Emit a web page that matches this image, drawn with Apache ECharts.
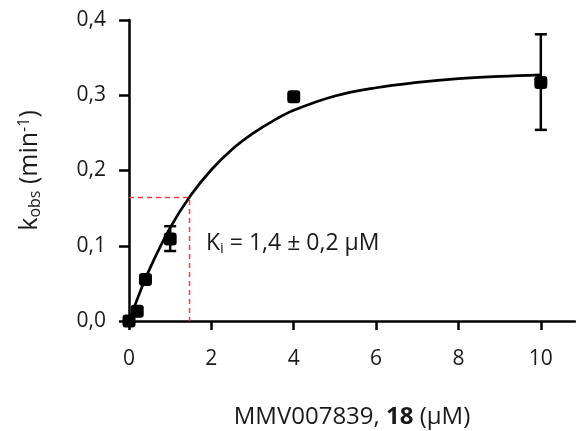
<!DOCTYPE html>
<html>
<head>
<meta charset="utf-8">
<script src="https://cdn.jsdelivr.net/npm/echarts@6/dist/echarts.min.js"></script>
<style>html,body{margin:0;padding:0;background:#fff}#c{width:576px;height:431px}</style>
</head>
<body>
<div id="c"></div>
<script>
// Measured points
var pointX = [0, 0.2, 0.4, 1, 4, 10];
var pointY = [0, 0.013, 0.055, 0.109, 0.298, 0.317];
// Error bars [x, low, high]
var errX = [1, 10];
var errLow = [0.093, 0.254];
var errHigh = [0.126, 0.381];
// Fitted curve
var curveX = [0, 0.25, 0.5, 1, 1.5, 2, 2.5, 3, 3.5, 4, 5, 6, 7, 8, 9, 10];
var curveY = [0, 0.036, 0.069, 0.124, 0.167, 0.201, 0.228, 0.249, 0.266, 0.280, 0.299, 0.310, 0.317, 0.322, 0.325, 0.327];
// Ki guide lines
var kiX = 1.47;
var kiY = 0.164;
var xTicks = [0, 2, 4, 6, 8, 10];

var FONT = 'Open Sans';
var TXT = '#1a1a1a';
var chart = echarts.init(document.getElementById('c'));

function zip(a, b) { return a.map(function (v, i) { return [v, b[i]]; }); }

chart.setOption({
  animation: false,
  grid: { left: 129, right: 1, top: 20, bottom: 110, containLabel: false, outerBoundsMode: 'none' },
  xAxis: {
    type: 'value', min: 0, max: 10.83, interval: 2,
    splitLine: { show: false },
    axisLine: { show: true, onZero: false, lineStyle: { color: '#000', width: 2.5 } },
    axisTick: { show: true, length: 9, inside: false, customValues: xTicks, lineStyle: { color: '#000', width: 2.5 } },
    axisLabel: { customValues: xTicks, margin: 28, color: TXT, fontFamily: FONT, fontSize: 21,
      formatter: function (v) { return String(v); } },
    name: 'MMV007839, {b|18} (\u00b5M)',
    nameLocation: 'middle', nameGap: 84,
    nameTextStyle: { color: TXT, fontFamily: FONT, fontSize: 24,
      rich: { b: { fontWeight: 'bold', fontFamily: FONT, fontSize: 24, color: TXT } } }
  },
  yAxis: {
    type: 'value', min: 0, max: 0.4, interval: 0.1,
    splitLine: { show: false },
    axisLine: { show: true, lineStyle: { color: '#000', width: 2.5 } },
    axisTick: { show: true, length: 10, lineStyle: { color: '#000', width: 2.5 } },
    axisLabel: { margin: 23, color: TXT, fontFamily: FONT, fontSize: 21,
      formatter: function (v) { return v.toFixed(1).replace('.', ','); } },
    name: 'k{sub|obs} (min{sup|-1})',
    nameLocation: 'middle', nameGap: 86, nameRotate: 90,
    nameTextStyle: { color: TXT, fontFamily: FONT, fontSize: 25,
      rich: {
        sub: { fontSize: 16, fontFamily: FONT, color: TXT, verticalAlign: 'bottom', padding: [11, 0, 0, 0] },
        sup: { fontSize: 16, fontFamily: FONT, color: TXT, verticalAlign: 'top', padding: [0, 0, 11, 0] }
      } }
  },
  series: [
    {
      type: 'line', data: [[0, kiY], [kiX, kiY], [kiX, 0]],
      symbol: 'none', silent: true, z: 1,
      lineStyle: { color: '#ff3a3a', width: 1.5, type: [5, 4] }
    },
    {
      type: 'line', data: zip(curveX, curveY), smooth: 0.4,
      symbol: 'none', z: 2,
      lineStyle: { color: '#000', width: 2.7 }
    },
    {
      type: 'custom', z: 3,
      data: errX.map(function (x, i) { return [x, errLow[i], errHigh[i]]; }),
      renderItem: function (params, api) {
        var lo = api.coord([api.value(0), api.value(1)]);
        var hi = api.coord([api.value(0), api.value(2)]);
        var w = 6;
        var st = { stroke: '#000', lineWidth: 2.5 };
        return { type: 'group', children: [
          { type: 'line', shape: { x1: lo[0], y1: lo[1], x2: hi[0], y2: hi[1] }, style: st },
          { type: 'line', shape: { x1: lo[0] - w, y1: lo[1], x2: lo[0] + w, y2: lo[1] }, style: st },
          { type: 'line', shape: { x1: hi[0] - w, y1: hi[1], x2: hi[0] + w, y2: hi[1] }, style: st }
        ] };
      }
    },
    {
      type: 'scatter', data: zip(pointX, pointY), z: 4,
      symbol: 'roundRect', symbolSize: 13,
      itemStyle: { color: '#000', opacity: 1 }
    }
  ],
  graphic: [{
    type: 'text', left: 206, top: 232, z: 10,
    style: {
      text: 'K{sub|i} = 1,4 \u00b1 0,2 \u00b5M',
      fill: TXT, fontFamily: FONT, fontSize: 23,
      rich: { sub: { fontSize: 15, fontFamily: FONT, fill: TXT, verticalAlign: 'bottom', padding: [10, 0, 0, 0] } }
    }
  }]
});
</script>
</body>
</html>
